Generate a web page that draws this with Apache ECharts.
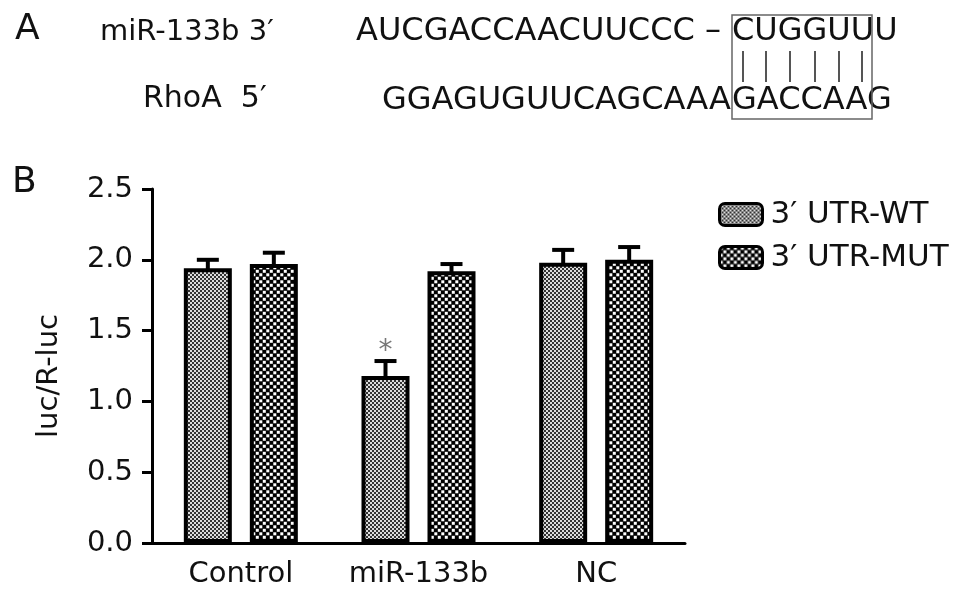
<!DOCTYPE html>
<html>
<head>
<meta charset="utf-8">
<script src="https://cdn.jsdelivr.net/npm/echarts@6/dist/echarts.min.js"></script>
<style>
html,body{margin:0;padding:0;background:#fff;}
#chart{width:969px;height:602px;}
</style>
</head>
<body>
<div id="chart"></div>
<script>
// ---- data ----
const categories = ['Control', 'miR-133b', 'NC'];
const seriesNames = ['3\u2032 UTR-WT', '3\u2032 UTR-MUT'];
const wtValues = [1.94, 1.18, 1.98];
const wtErrors = [0.06, 0.105, 0.09];
const mutValues = [1.97, 1.92, 2.00];
const mutErrors = [0.08, 0.05, 0.09];
const wtSignificance = ['', '*', ''];
const mutSignificance = ['', '', ''];
const yTicks = [0, 0.5, 1.0, 1.5, 2.0, 2.5];

const FONT = 'DejaVu Sans';
const BAR_W = 48, BAR_GAP = 18;

function makePattern(kind) {
  const c = document.createElement('canvas');
  if (kind === 'fine') {
    c.width = 4; c.height = 4;
    const g = c.getContext('2d');
    g.fillStyle = '#333'; g.fillRect(0, 0, 4, 4);
    g.fillStyle = '#dcdcdc';
    g.fillRect(0, 0, 2, 2); g.fillRect(2, 2, 2, 2);
  } else {
    c.width = 7; c.height = 7;
    const g = c.getContext('2d');
    g.fillStyle = '#000'; g.fillRect(0, 0, 7, 7);
    g.fillStyle = '#fff';
    g.fillRect(0.3, 0.3, 3, 3); g.fillRect(3.8, 3.8, 3, 3);
  }
  return {image: c, repeat: 'repeat'};
}
const wtFill = makePattern('fine');
const mutFill = makePattern('coarse');

function errorSeries(name, values, errors, sig, sign) {
  const offset = sign * (BAR_W + BAR_GAP) / 2;
  return {
    type: 'custom',
    name: name + ' err',
    z: 1,
    silent: true,
    data: values.map((v, i) => [i, v, errors[i]]),
    renderItem: function (params, api) {
      const i = api.value(0);
      const p = api.coord([i, api.value(1)]);
      const q = api.coord([i, api.value(1) + api.value(2)]);
      const x = p[0] + offset;
      const children = [
        {type: 'line', shape: {x1: x, y1: p[1] + 2, x2: x, y2: q[1]}, style: {stroke: '#000', lineWidth: 4}},
        {type: 'line', shape: {x1: x - 11, y1: q[1], x2: x + 11, y2: q[1]}, style: {stroke: '#000', lineWidth: 4}}
      ];
      const s = sig[params.dataIndex];
      if (s) {
        children.push({type: 'text', style: {text: s, x: x, y: q[1] - 9, align: 'center', verticalAlign: 'middle', fill: '#777', font: '28px "' + FONT + '"'}});
      }
      return {type: 'group', children: children};
    }
  };
}

const chart = echarts.init(document.getElementById('chart'), null, {renderer: 'canvas'});

const txt = (t, x, y, size, align, color) => ({
  type: 'text', silent: true,
  style: {text: t, x: x, y: y, align: align || 'left', verticalAlign: 'middle', fill: color || '#111', font: size + 'px "' + FONT + '"'}
});

const vlines = [743, 766, 790, 815, 839, 862].map(x => ({
  type: 'line', silent: true, shape: {x1: x, y1: 51, x2: x, y2: 82}, style: {stroke: '#555', lineWidth: 2}
}));

chart.setOption({
  animation: false,
  backgroundColor: '#fff',
  textStyle: {fontFamily: FONT},
  grid: {left: 152, right: 284, top: 189, bottom: 59, containLabel: false},
  legend: {
    data: seriesNames,
    left: 718, top: 199, orient: 'vertical', padding: 0,
    itemWidth: 43, itemHeight: 22, itemGap: 12,
    icon: 'roundRect',
    itemStyle: {borderColor: '#000', borderWidth: 3},
    textStyle: {fontFamily: FONT, fontSize: 31, color: '#111', lineHeight: 29, padding: [0, 0, 0, 3]}
  },
  xAxis: {
    type: 'category', data: categories,
    axisLine: {lineStyle: {color: '#000', width: 3}},
    axisTick: {alignWithLabel: true, length: 10, lineStyle: {color: '#000', width: 3}},
    axisLabel: {fontFamily: FONT, fontSize: 29, color: '#111', margin: 17, interval: 0}
  },
  yAxis: {
    type: 'value', min: yTicks[0], max: yTicks[yTicks.length - 1], interval: 0.5,
    name: 'luc/R-luc', nameLocation: 'middle', nameGap: 88, nameRotate: 90,
    nameTextStyle: {fontFamily: FONT, fontSize: 29, color: '#111', padding: [0, 20, 0, 0]},
    axisLine: {show: true, lineStyle: {color: '#000', width: 3}},
    axisTick: {show: true, length: 10, lineStyle: {color: '#000', width: 3}},
    splitLine: {show: false},
    axisLabel: {fontFamily: FONT, fontSize: 29, color: '#111', margin: 19, formatter: v => v.toFixed(1)}
  },
  series: [
    {type: 'bar', name: seriesNames[0], data: wtValues, barWidth: BAR_W, barGap: (BAR_GAP / BAR_W * 100) + '%', z: 2,
     itemStyle: {color: wtFill, borderColor: '#000', borderWidth: 4}},
    {type: 'bar', name: seriesNames[1], data: mutValues, barWidth: BAR_W, z: 2,
     itemStyle: {color: mutFill, borderColor: '#000', borderWidth: 4}},
    errorSeries(seriesNames[0], wtValues, wtErrors, wtSignificance, -1),
    errorSeries(seriesNames[1], mutValues, mutErrors, mutSignificance, 1)
  ],
  graphic: [
    txt('A', 15, 30, 36),
    txt('B', 12, 183, 36),
    txt('miR-133b 3\u2032', 100, 32, 29),
    txt('AUCGACCAACUUCCC \u2013', 721, 32, 32, 'right'),
    txt('CUGGUUU', 732, 32, 32),
    txt('RhoA  5\u2032', 143, 99, 30),
    txt('GGAGUGUUCAGCAAA', 731, 101, 32, 'right'),
    txt('GACCAAG', 732, 101, 32),
    {type: 'rect', silent: true, shape: {x: 732, y: 15, width: 140, height: 104}, style: {fill: 'none', stroke: '#666', lineWidth: 1.5}}
  ].concat(vlines)
});
</script>
</body>
</html>
